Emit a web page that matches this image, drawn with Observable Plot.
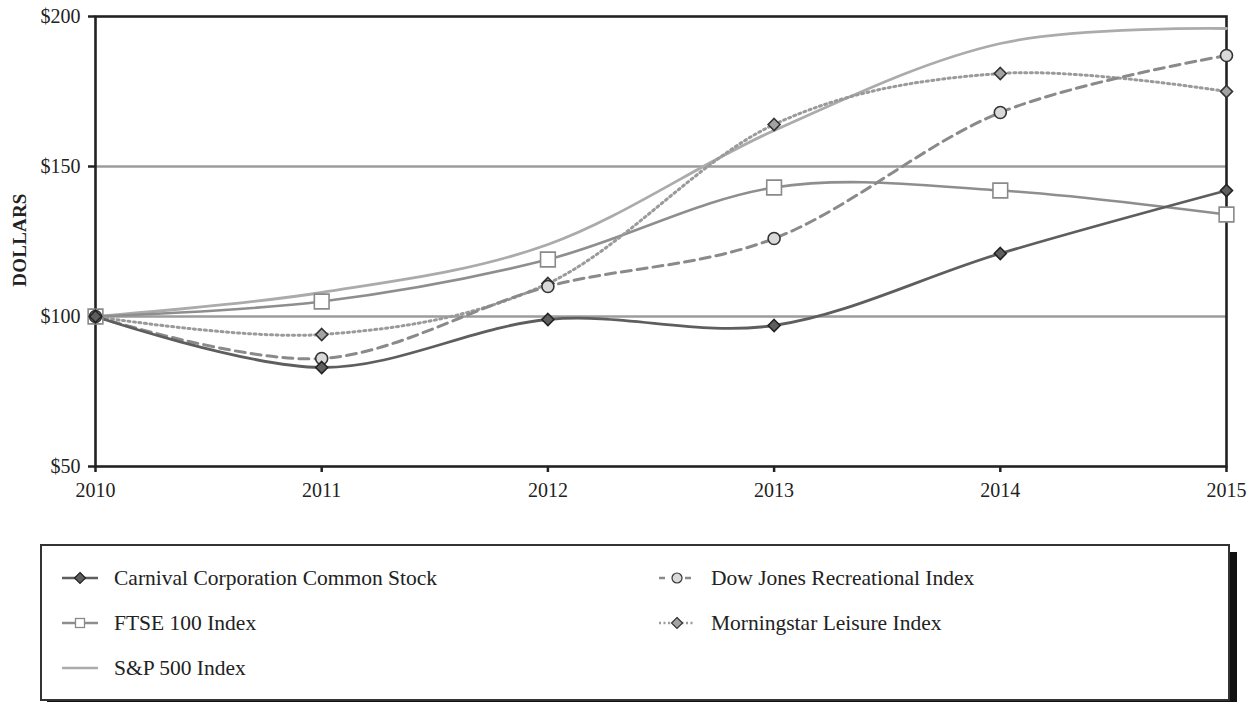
<!DOCTYPE html>
<html>
<head>
<meta charset="utf-8">
<script src="https://cdn.jsdelivr.net/npm/d3@7"></script>
<script src="https://cdn.jsdelivr.net/npm/@observablehq/plot@0.6"></script>
<style>
  body { margin: 0; background: #fff; font-family: "Liberation Serif", "Times New Roman", serif; }
  #chart { position: absolute; left: 0; top: 0; }
  #legend {
    position: absolute; left: 40px; top: 544px; width: 1190px; height: 157px;
    border: 2px solid #333; box-sizing: border-box; background: #fff;
    box-shadow: 7px 8px 0 #111;
  }
  .item { position: absolute; display: flex; align-items: center; font-size: 21.5px; color: #222; white-space: nowrap; }
  .item svg { margin-right: 14px; }
  #ylabel { position: absolute; left: 20px; top: 240px; transform: translate(-50%, -50%) rotate(-90deg);
    font-weight: bold; font-size: 19px; color: #222; letter-spacing: 0.2px; }
</style>
</head>
<body>
<div id="chart"></div>
<div id="ylabel">DOLLARS</div>
<div id="legend"></div>
<script>
const years = [2010, 2011, 2012, 2013, 2014, 2015];
const carnival = [100, 83, 99, 97, 121, 142];
const dowJones = [100, 86, 110, 126, 168, 187];
const ftse = [100, 105, 119, 143, 142, 134];
const morningstar = [100, 94, 111, 164, 181, 175];
const sp500 = [100, 108, 124, 162, 191, 196];
const yTicks = [50, 100, 150, 200];
const gridValues = [100, 150];

const seriesDefs = [
  {name: "S&P 500 Index", values: sp500, stroke: "#ababab", width: 2.8, dash: null, symbol: null},
  {name: "FTSE 100 Index", values: ftse, stroke: "#8e8e8e", width: 2.6, dash: null, symbol: "square", r: 8.3, fill: "#fff", mstroke: "#8a8a8a"},
  {name: "Morningstar Leisure Index", values: morningstar, stroke: "#9a9a9a", width: 3, dash: "2,3.5", symbol: "diamond2", r: 5.4, fill: "#a3a3a3", mstroke: "#333"},
  {name: "Dow Jones Recreational Index", values: dowJones, stroke: "#8a8a8a", width: 3, dash: "10,6", symbol: "circle", r: 6, fill: "#d9d9d9", mstroke: "#333"},
  {name: "Carnival Corporation Common Stock", values: carnival, stroke: "#5e5e5e", width: 2.8, dash: null, symbol: "diamond2", r: 5.4, fill: "#5e5e5e", mstroke: "#222"}
];

const marks = [
  Plot.ruleY(gridValues, {stroke: "#9c9c9c", strokeWidth: 2.6}),
  Plot.axisY({ticks: yTicks, tickFormat: d => "$" + d, tickSize: 7, tickPadding: 8, stroke: "#222", strokeWidth: 2.5, fill: "#222", label: null}),
  Plot.axisX({ticks: years, tickFormat: d => String(d), tickSize: 6, tickPadding: 10, stroke: "#222", strokeWidth: 2.5, fill: "#222", label: null}),
  Plot.frame({stroke: "#222", strokeWidth: 2.6})
];
for (const s of seriesDefs) {
  const data = years.map((y, i) => ({year: y, value: s.values[i]}));
  marks.push(Plot.line(data, {x: "year", y: "value", curve: "cardinal", stroke: s.stroke, strokeWidth: s.width, strokeDasharray: s.dash}));
}
for (const s of seriesDefs) {
  if (!s.symbol) continue;
  const data = years.map((y, i) => ({year: y, value: s.values[i]}));
  marks.push(Plot.dot(data, {x: "year", y: "value", symbol: s.symbol, r: s.r, fill: s.fill, stroke: s.mstroke, strokeWidth: 1.6, fillOpacity: 1}));
}

const chart = Plot.plot({
  width: 1256,
  height: 516,
  marginLeft: 95,
  marginRight: 30,
  marginTop: 16,
  marginBottom: 50,
  style: {fontFamily: "'Liberation Serif', 'Times New Roman', serif", fontSize: "20px", background: "#fff", color: "#222"},
  x: {domain: [2010, 2015], type: "linear"},
  y: {domain: [50, 200]},
  marks
});
document.getElementById("chart").appendChild(chart);

// Legend
const legendOrder = [
  {s: seriesDefs[4], left: 18, top: 32},
  {s: seriesDefs[1], left: 18, top: 77},
  {s: seriesDefs[0], left: 18, top: 122},
  {s: seriesDefs[3], left: 615, top: 32},
  {s: seriesDefs[2], left: 615, top: 77}
];
const legend = d3.select("#legend");
for (const {s, left, top} of legendOrder) {
  const item = legend.append("div").attr("class", "item").style("left", left + "px").style("top", (top - 14) + "px").style("height", "28px");
  const svg = item.append("svg").attr("width", 40).attr("height", 20);
  svg.append("line").attr("x1", 2).attr("x2", 38).attr("y1", 10).attr("y2", 10)
    .attr("stroke", s.stroke).attr("stroke-width", 2.6).attr("stroke-dasharray", s.dash ? (s.dash === "10,6" ? "6,7" : "2,2.5") : null);
  if (s.symbol === "square") {
    svg.append("rect").attr("x", 15.5).attr("y", 5.5).attr("width", 9).attr("height", 9).attr("fill", "#fff").attr("stroke", s.mstroke).attr("stroke-width", 1.3);
  } else if (s.symbol === "circle") {
    svg.append("circle").attr("cx", 20).attr("cy", 10).attr("r", 5).attr("fill", s.fill).attr("stroke", s.mstroke).attr("stroke-width", 1.2);
  } else if (s.symbol === "diamond2") {
    svg.append("path").attr("d", "M20,4.5L25.5,10L20,15.5L14.5,10Z").attr("fill", s.fill).attr("stroke", s.mstroke).attr("stroke-width", 1.2);
  }
  item.append("span").text(s.name);
}
</script>
</body>
</html>
